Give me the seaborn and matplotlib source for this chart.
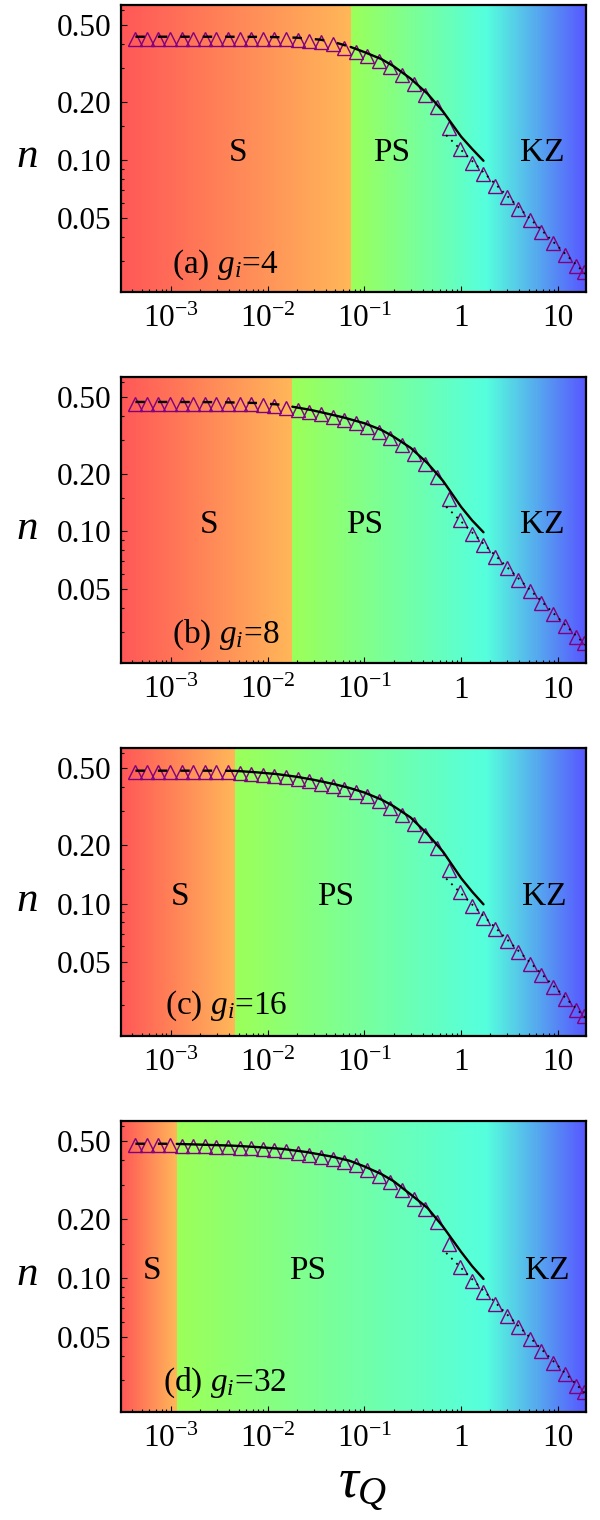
import numpy as np
import matplotlib
matplotlib.use("Agg")
import matplotlib.pyplot as plt
import seaborn as sns
from matplotlib.colors import LinearSegmentedColormap
from matplotlib.ticker import FixedLocator, FixedFormatter, NullFormatter, LogLocator

# ---------------------------------------------------------------- data
# quench times of the numerical runs (same grid in every panel)
tau_num = [4.27e-4, 5.62e-4, 7.41e-4, 9.77e-4, 1.29e-3, 1.70e-3, 2.24e-3, 2.95e-3,
           3.89e-3, 5.13e-3, 6.76e-3, 8.91e-3, 1.17e-2, 1.55e-2, 2.04e-2, 2.69e-2,
           3.55e-2, 4.68e-2, 6.17e-2, 8.13e-2, 0.107, 0.141, 0.186, 0.245,
           0.324, 0.427, 0.562, 0.741, 0.977, 1.29, 1.70, 2.24,
           2.95, 3.89, 5.13, 6.76, 8.91, 11.7, 15.5, 18.6]

# defect density from the numerics, one list per initial field g_i
n_num_a = [0.425, 0.425, 0.425, 0.425, 0.425, 0.425, 0.425, 0.425,
           0.425, 0.425, 0.425, 0.425, 0.425, 0.425, 0.420, 0.415,
           0.409, 0.397, 0.382, 0.362, 0.345, 0.326, 0.302, 0.275,
           0.246, 0.217, 0.187, 0.147, 0.114, 0.097, 0.0845, 0.0737,
           0.0643, 0.0560, 0.0488, 0.0425, 0.0370, 0.0323, 0.0281, 0.0262]
n_num_b = [0.458, 0.458, 0.458, 0.458, 0.458, 0.458, 0.458, 0.458,
           0.458, 0.458, 0.458, 0.454, 0.448, 0.440, 0.430, 0.419,
           0.406, 0.393, 0.380, 0.366, 0.349, 0.330, 0.307, 0.283,
           0.254, 0.224, 0.191, 0.148, 0.114, 0.097, 0.0845, 0.0737,
           0.0643, 0.0560, 0.0488, 0.0425, 0.0370, 0.0323, 0.0281, 0.0262]
n_num_c = [0.476, 0.476, 0.476, 0.476, 0.476, 0.476, 0.476, 0.476,
           0.476, 0.470, 0.466, 0.461, 0.455, 0.448, 0.439, 0.428,
           0.416, 0.404, 0.391, 0.375, 0.357, 0.337, 0.313, 0.287,
           0.258, 0.225, 0.193, 0.149, 0.114, 0.097, 0.0845, 0.0737,
           0.0643, 0.0560, 0.0488, 0.0425, 0.0370, 0.0323, 0.0281, 0.0262]
n_num_d = [0.478, 0.478, 0.478, 0.478, 0.475, 0.473, 0.471, 0.469,
           0.466, 0.463, 0.460, 0.456, 0.451, 0.445, 0.437, 0.428,
           0.418, 0.406, 0.394, 0.377, 0.356, 0.333, 0.309, 0.282,
           0.253, 0.225, 0.193, 0.149, 0.114, 0.097, 0.0845, 0.0737,
           0.0643, 0.0560, 0.0488, 0.0425, 0.0370, 0.0323, 0.0281, 0.0262]

# analytic prediction (dashed in the sudden regime, solid in the PS regime)
tau_th_a = [4.3e-4, 1e-3, 3e-3, 1e-2, 2e-2, 3.5e-2, 5e-2, 0.072, 0.1, 0.15, 0.2,
            0.3, 0.45, 0.65, 1.0, 1.3, 1.7]
n_th_a = [0.435, 0.435, 0.435, 0.434, 0.430, 0.420, 0.406, 0.385, 0.362, 0.333, 0.306,
          0.264, 0.220, 0.178, 0.132, 0.114, 0.099]
tau_th_b = [4.3e-4, 1e-3, 3e-3, 8e-3, 1.35e-2, 0.018, 0.028, 0.04, 0.06, 0.1, 0.15,
            0.2, 0.3, 0.45, 0.65, 1.0, 1.3, 1.7]
n_th_b = [0.471, 0.471, 0.470, 0.465, 0.456, 0.445, 0.428, 0.411, 0.392, 0.365, 0.337,
          0.311, 0.272, 0.226, 0.183, 0.134, 0.114, 0.099]
tau_th_c = [4.3e-4, 1e-3, 2.5e-3, 0.0046, 0.0075, 0.0123, 0.02, 0.03, 0.05, 0.07,
            0.1, 0.15, 0.2, 0.3, 0.45, 0.65, 1.0, 1.3, 1.7]
n_th_c = [0.485, 0.485, 0.485, 0.484, 0.476, 0.466, 0.451, 0.435, 0.412, 0.395,
          0.374, 0.344, 0.318, 0.278, 0.228, 0.185, 0.135, 0.115, 0.099]
tau_th_d = [4.3e-4, 8e-4, 0.00115, 0.002, 0.0044, 0.008, 0.0144, 0.025, 0.047, 0.07,
            0.1, 0.15, 0.2, 0.3, 0.45, 0.65, 1.0, 1.3, 1.7]
n_th_d = [0.486, 0.486, 0.485, 0.481, 0.475, 0.467, 0.457, 0.441, 0.417, 0.398,
          0.372, 0.340, 0.313, 0.268, 0.228, 0.183, 0.136, 0.115, 0.099]

# Kibble-Zurek power law n ~ tau^(-1/2)
tau_kz = [0.7, 20.0]
n_kz = [0.1345, 0.0252]

g_values = [4, 8, 16, 32]
panel_tags = ["(a)", "(b)", "(c)", "(d)"]
tau_s_edge = [0.072, 0.018, 0.0046, 0.00115]   # S / PS crossover
tau_ps_edge = 1.8                                # PS / KZ crossover

x_ticks = [1e-3, 1e-2, 1e-1, 1, 10]
x_tick_labels = [r"$10^{-3}$", r"$10^{-2}$", r"$10^{-1}$", "1", "10"]
y_ticks = [0.05, 0.10, 0.20, 0.50]
y_tick_labels = ["0.05", "0.10", "0.20", "0.50"]
y_minor = [0.03, 0.04, 0.06, 0.07, 0.08, 0.09, 0.15, 0.3, 0.4, 0.6]

# ---------------------------------------------------------------- layout / style
X_LIM = (3.05e-4, 19.5)
Y_LIM = (0.0207, 0.635)
AX_LEFT, AX_WIDTH = 121 / 600, 465 / 600
AX_ROWS = [(5, 292), (377, 663), (748, 1036), (1121, 1412)]   # top/bottom in px
TAG_POS = [(0.110, 0.095), (0.110, 0.098), (0.095, 0.104), (0.090, 0.100)]
REGION_X = [(0.252, 0.583, 0.905), (0.189, 0.523, 0.905),
            (0.127, 0.462, 0.910), (0.067, 0.402, 0.916)]
REGION_Y = 0.485

S_LEFT, S_RIGHT = "#FF5757", "#FFB658"
PS_LEFT, PS_RIGHT = "#9BFF58", "#55FFDD"
KZ_RIGHT = "#5757FF"
PURPLE = "#800080"

sns.set_theme(style="ticks")
plt.rcParams["font.family"] = ["Liberation Serif", "DejaVu Serif"]
plt.rcParams["mathtext.fontset"] = "custom"
plt.rcParams["mathtext.rm"] = "Liberation Serif"
plt.rcParams["mathtext.it"] = "Liberation Serif:italic"
plt.rcParams["mathtext.bf"] = "Liberation Serif:bold"
for key in ("text.color", "axes.labelcolor", "xtick.color", "ytick.color", "axes.edgecolor"):
    plt.rcParams[key] = "black"


def shade(ax, x0, x1, c0, c1):
    """Horizontal colour ramp, uniform in log(tau)."""
    edges = np.geomspace(x0, x1, 201)
    cmap = LinearSegmentedColormap.from_list("ramp", [c0, c1])
    vals = np.linspace(0, 1, 200)[None, :]
    ax.pcolormesh(edges, list(Y_LIM), vals, cmap=cmap, shading="flat",
                  antialiased=False, edgecolors="none", zorder=0)


fig = plt.figure(figsize=(6.0, 15.2), dpi=100)

numerics = [n_num_a, n_num_b, n_num_c, n_num_d]
theory = [(tau_th_a, n_th_a), (tau_th_b, n_th_b), (tau_th_c, n_th_c), (tau_th_d, n_th_d)]

for i in range(4):
    top, bot = AX_ROWS[i]
    ax = fig.add_axes([AX_LEFT, 1 - bot / 1520, AX_WIDTH, (bot - top) / 1520])
    ax.set_xscale("log")
    ax.set_yscale("log")

    edge = tau_s_edge[i]
    shade(ax, X_LIM[0], edge, S_LEFT, S_RIGHT)
    shade(ax, edge, tau_ps_edge, PS_LEFT, PS_RIGHT)
    shade(ax, tau_ps_edge, X_LIM[1], PS_RIGHT, KZ_RIGHT)

    # numerical data
    sns.lineplot(x=tau_num, y=numerics[i], ax=ax, linestyle="none", marker="^",
                 markersize=10, markerfacecolor="none", markeredgecolor=PURPLE,
                 markeredgewidth=1.0, color=PURPLE, estimator=None, zorder=2)

    # analytic curve: dashed (S) and solid (PS)
    t_th = np.asarray(theory[i][0])
    n_th = np.asarray(theory[i][1])
    s_mask = t_th <= edge
    p_mask = t_th >= edge
    sns.lineplot(x=t_th[s_mask], y=n_th[s_mask], ax=ax, color="black", linewidth=1.7,
                 linestyle=(0, (4, 5.5)), estimator=None, sort=False, zorder=3)
    sns.lineplot(x=t_th[p_mask], y=n_th[p_mask], ax=ax, color="black", linewidth=1.7,
                 estimator=None, sort=False, zorder=3)
    # Kibble-Zurek scaling
    sns.lineplot(x=tau_kz, y=n_kz, ax=ax, color="black", linewidth=1.3,
                 linestyle=(0, (1, 3)), estimator=None, sort=False, zorder=3)

    ax.set_xlim(*X_LIM)
    ax.set_ylim(*Y_LIM)

    ax.xaxis.set_major_locator(FixedLocator(x_ticks))
    ax.xaxis.set_major_formatter(FixedFormatter(x_tick_labels))
    ax.xaxis.set_minor_locator(LogLocator(base=10, subs=np.arange(2, 10), numticks=30))
    ax.xaxis.set_minor_formatter(NullFormatter())
    ax.yaxis.set_major_locator(FixedLocator(y_ticks))
    ax.yaxis.set_major_formatter(FixedFormatter(y_tick_labels))
    ax.yaxis.set_minor_locator(FixedLocator(y_minor))
    ax.yaxis.set_minor_formatter(NullFormatter())

    ax.tick_params(which="both", direction="in", top=False, right=False,
                   colors="black", labelsize=22.5, width=0.8)
    ax.tick_params(which="major", length=4.5)
    ax.tick_params(which="minor", length=2.4)
    ax.tick_params(axis="y", pad=7)
    ax.tick_params(axis="x", pad=9)
    for sp in ax.spines.values():
        sp.set_visible(True)
        sp.set_linewidth(1.6)
        sp.set_color("black")
        sp.set_zorder(5)

    ax.set_xlabel("")
    ax.set_ylabel(r"$n$", rotation=0, fontsize=31, va="center", ha="center",
                  color="black")
    ax.yaxis.set_label_coords(-0.202, 0.47)

    for label, xf in zip(["S", "PS", "KZ"], REGION_X[i]):
        ax.text(xf, REGION_Y, label, transform=ax.transAxes, fontsize=24,
                ha="center", va="center", color="black", zorder=4)
    tx, ty = TAG_POS[i]
    ax.text(tx, ty, rf"{panel_tags[i]} $g_i$={g_values[i]}", transform=ax.transAxes,
            fontsize=24, ha="left", va="center", color="black", zorder=4)

fig.text(0.605, 1 - 1487 / 1520, r"$\tau_Q$", fontsize=40, ha="center", va="center",
         color="black")

fig.savefig("out.png", dpi=100)
